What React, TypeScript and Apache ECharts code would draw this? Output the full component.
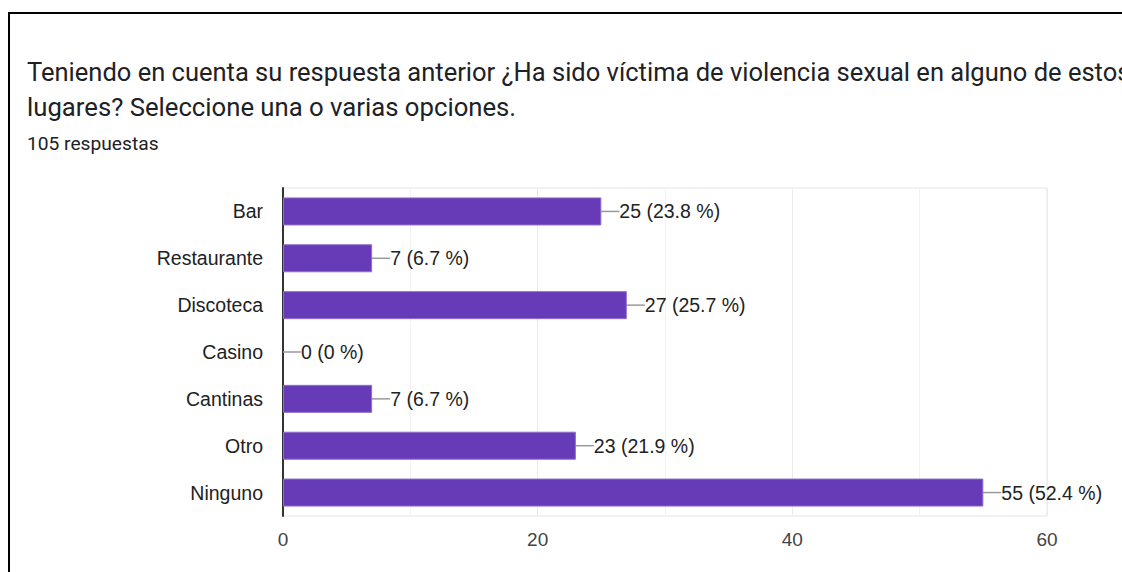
import React, { useEffect, useRef } from "react";
import * as echarts from "echarts";

const categories = ["Bar", "Restaurante", "Discoteca", "Casino", "Cantinas", "Otro", "Ninguno"];
const counts = [25, 7, 27, 0, 7, 23, 55];
const percents = ["23.8", "6.7", "25.7", "0", "6.7", "21.9", "52.4"];
const xTicks = { min: 0, max: 60, interval: 20 };
const titleLine1 = "Teniendo en cuenta su respuesta anterior ¿Ha sido víctima de violencia sexual en alguno de estos";
const titleLine2 = "lugares? Seleccione una o varias opciones.";
const subtitle = "105 respuestas";

export default function App() {
  const ref = useRef<HTMLDivElement>(null);
  useEffect(() => {
    document.body.style.margin = "0";
    const chart = echarts.init(ref.current!, null, { renderer: "svg" });
    const titleFont = "Roboto, Arial, sans-serif";
    const font = "'Liberation Sans', Arial, Helvetica, sans-serif";
    chart.setOption({
      animation: false,
      backgroundColor: "#ffffff",
      textStyle: { fontFamily: font },
      graphic: [
        {
          type: "rect",
          shape: { x: 9, y: 13, width: 1200, height: 700 },
          style: { fill: "none", stroke: "#000000", lineWidth: 2 },
          z: 10,
        },
        {
          type: "text",
          x: 27,
          y: 72,
          style: { text: titleLine1, fontSize: 25.5, fill: "#202124", fontFamily: titleFont, textVerticalAlign: "middle" },
        },
        {
          type: "text",
          x: 27,
          y: 107,
          style: { text: titleLine2, fontSize: 25.7, fill: "#202124", fontFamily: titleFont, textVerticalAlign: "middle" },
        },
        {
          type: "text",
          x: 27,
          y: 143,
          style: { text: subtitle, fontSize: 19.2, fill: "#202124", fontFamily: titleFont, textVerticalAlign: "middle" },
        },
      ],
      grid: {
        left: 283,
        right: 75,
        top: 188,
        bottom: 56,
        show: true,
        borderColor: "#e6e6e6",
        borderWidth: 1,
        containLabel: false,
      },
      xAxis: {
        type: "value",
        min: xTicks.min,
        max: xTicks.max,
        interval: xTicks.interval,
        axisLine: { show: false },
        axisTick: { show: false },
        minorTick: { show: false, splitNumber: 2 },
        splitLine: { show: true, lineStyle: { color: "#ebebeb", width: 1 } },
        minorSplitLine: { show: true, lineStyle: { color: "#f2f2f2", width: 1 } },
        axisLabel: { fontSize: 19, color: "#444444", margin: 14, fontFamily: font },
      },
      yAxis: {
        type: "category",
        data: categories,
        inverse: true,
        axisLine: { show: true, lineStyle: { color: "#333333", width: 2 } },
        axisTick: { show: false },
        axisLabel: { fontSize: 19.5, color: "#222222", margin: 20, fontFamily: font },
        splitLine: { show: false },
      },
      series: [
        {
          type: "bar",
          data: counts.map((v) => ({
            value: v,
            itemStyle: v === 0 ? { borderWidth: 0 } : undefined,
          })),
          barWidth: 28,
          itemStyle: { color: "#673ab7", borderColor: "#8e6ccf", borderWidth: 1 },
          label: {
            show: true,
            position: "right",
            distance: 0,
            fontSize: 19.5,
            color: "#222222",
            fontFamily: font,
            formatter: (p: any) => `${counts[p.dataIndex]} (${percents[p.dataIndex]} %)`,
          },
          labelLayout: { dx: 18 },
          labelLine: { show: true, lineStyle: { color: "#999999", width: 1.5 } },
        },
      ],
    });
    return () => chart.dispose();
  }, []);
  return <div ref={ref} style={{ width: 1122, height: 572, position: "absolute", left: 0, top: 0 }} />;
}
